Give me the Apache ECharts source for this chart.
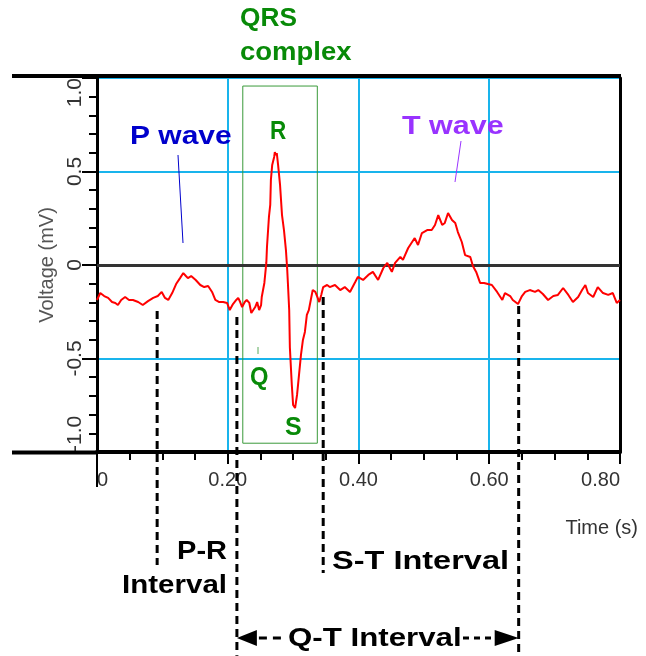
<!DOCTYPE html>
<html>
<head>
<meta charset="utf-8">
<script src="https://cdn.jsdelivr.net/npm/echarts@6/dist/echarts.min.js"></script>
<style>
html, body { margin: 0; padding: 0; background: #fff; }
#main { width: 646px; height: 656px; }
</style>
</head>
<body>
<div id="main"></div>
<script>
// ECG trace (time in s, voltage in mV)
var times = [
  0.000, 0.005, 0.011, 0.017, 0.023, 0.028, 0.032, 0.037, 0.043, 0.049,
  0.055, 0.063, 0.070, 0.078, 0.086, 0.093, 0.099, 0.104, 0.109, 0.115,
  0.121, 0.127, 0.132, 0.136, 0.139, 0.144, 0.147, 0.151, 0.158, 0.164,
  0.170, 0.176, 0.181, 0.187, 0.193, 0.199, 0.203, 0.208, 0.213, 0.216,
  0.219, 0.222, 0.226, 0.229, 0.233, 0.236, 0.239, 0.242, 0.245, 0.248,
  0.251, 0.252, 0.256, 0.259, 0.260, 0.263, 0.265, 0.266, 0.268, 0.271,
  0.272, 0.274, 0.275, 0.277, 0.280, 0.283, 0.286, 0.289, 0.291, 0.292,
  0.294, 0.295, 0.298, 0.300, 0.303, 0.306, 0.309, 0.312, 0.315, 0.318,
  0.321, 0.324, 0.327, 0.330, 0.334, 0.337, 0.340, 0.343, 0.346, 0.352,
  0.356, 0.364, 0.372, 0.379, 0.387, 0.395, 0.399, 0.407, 0.415, 0.422,
  0.430, 0.438, 0.444, 0.451, 0.456, 0.464, 0.468, 0.476, 0.482, 0.486,
  0.491, 0.497, 0.505, 0.512, 0.517, 0.522, 0.528, 0.532, 0.537, 0.543,
  0.548, 0.552, 0.558, 0.563, 0.571, 0.575, 0.580, 0.586, 0.592, 0.598,
  0.604, 0.612, 0.620, 0.624, 0.632, 0.636, 0.644, 0.650, 0.655, 0.662,
  0.670, 0.675, 0.682, 0.690, 0.698, 0.705, 0.713, 0.721, 0.728, 0.736,
  0.742, 0.747, 0.751, 0.759, 0.766, 0.774, 0.782, 0.789, 0.795, 0.800
];
var volts = [
  -0.187, -0.150, -0.166, -0.176, -0.198, -0.203, -0.214, -0.187, -0.171, -0.187,
  -0.187, -0.198, -0.214, -0.193, -0.176, -0.166, -0.144, -0.176, -0.187, -0.150,
  -0.102, -0.070, -0.043, -0.059, -0.070, -0.059, -0.053, -0.080, -0.107, -0.118,
  -0.112, -0.144, -0.187, -0.198, -0.198, -0.203, -0.241, -0.209, -0.187, -0.176,
  -0.198, -0.225, -0.198, -0.187, -0.203, -0.257, -0.267, -0.225, -0.198, -0.241,
  -0.214, -0.171, -0.096, 0.011, 0.096, 0.257, 0.321, 0.455, 0.535, 0.578,
  0.604, 0.588, 0.599, 0.535, 0.428, 0.267, 0.187, 0.080, -0.027, -0.096,
  -0.241, -0.439, -0.642, -0.749, -0.765, -0.695, -0.588, -0.481, -0.401, -0.358,
  -0.267, -0.241, -0.187, -0.134, -0.144, -0.171, -0.198, -0.160, -0.118, -0.107,
  -0.118, -0.107, -0.134, -0.118, -0.144, -0.091, -0.064, -0.080, -0.053, -0.037,
  -0.080, -0.016, 0.011, -0.037, 0.011, 0.043, 0.027, 0.091, 0.123, 0.144,
  0.107, 0.171, 0.187, 0.187, 0.214, 0.267, 0.214, 0.225, 0.278, 0.241,
  0.225, 0.176, 0.123, 0.053, 0.043, -0.005, -0.037, -0.096, -0.096, -0.102,
  -0.107, -0.144, -0.187, -0.150, -0.166, -0.187, -0.209, -0.166, -0.144, -0.134,
  -0.144, -0.134, -0.155, -0.187, -0.166, -0.160, -0.123, -0.160, -0.198, -0.171,
  -0.134, -0.107, -0.150, -0.171, -0.118, -0.150, -0.160, -0.150, -0.203, -0.187
];

// interval boundaries: P start, Q start, S end, T end
var markTimes = [0.092, 0.214, 0.346, 0.645];
var markTops = [-0.246, -0.278, -0.171, -0.219];
var markBottoms = [-1.604, -2.09, -1.647, -2.075];

// QRS complex box (time, voltage corners)
var qrsBox = [[0.223, 0.957], [0.337, -0.953]];

var chart = echarts.init(document.getElementById('main'));

var ecg = times.map(function (t, i) { return [t, volts[i]]; });

var labelFont = '"Liberation Sans", Arial, sans-serif';

chart.setOption({
  animation: false,
  grid: { left: 97, right: 26, top: 78, bottom: 204, outerBoundsMode: 'none' },
  xAxis: {
    type: 'value', min: 0, max: 0.8, interval: 0.2,
    axisLine: { onZero: false, lineStyle: { color: '#000', width: 4 } },
    axisTick: { length: 12, lineStyle: { color: '#000', width: 2 } },
    minorTick: { show: true, splitNumber: 4, length: 8, lineStyle: { color: '#000', width: 2 } },
    axisLabel: {
      fontSize: 20, color: '#333', fontFamily: labelFont, margin: 18,
      alignMinLabel: 'left', alignMaxLabel: 'right',
      formatter: function (v) { return v === 0 ? '0' : v.toFixed(2); }
    },
    splitLine: { show: true, lineStyle: { color: '#19b4ec', width: 2 } }
  },
  yAxis: [{
    type: 'value', min: -1, max: 1, interval: 0.5,
    name: 'Voltage (mV)', nameLocation: 'middle', nameGap: 37,
    nameTextStyle: { fontSize: 20, color: '#555', fontFamily: labelFont },
    axisLine: { onZero: false, lineStyle: { color: '#000', width: 3 } },
    axisTick: { length: 15, lineStyle: { color: '#000', width: 2 } },
    minorTick: { show: true, splitNumber: 5, length: 8, lineStyle: { color: '#000', width: 2 } },
    axisLabel: {
      rotate: 90, fontSize: 21, color: '#333', fontFamily: labelFont, margin: 11,
      alignMinLabel: 'left', alignMaxLabel: 'right',
      formatter: function (v) { return v === 0 ? '0' : v.toFixed(1); }
    },
    splitLine: { show: true, lineStyle: { color: '#19b4ec', width: 2 } }
  }, {
    type: 'value', min: -1, max: 1, position: 'right',
    axisLine: { show: true, onZero: false, lineStyle: { color: '#000', width: 3 } },
    axisTick: { show: false }, axisLabel: { show: false }, splitLine: { show: false }
  }],
  series: [{
    type: 'line',
    data: ecg,
    showSymbol: false,
    lineStyle: { color: '#ff0000', width: 2 },
    z: 3,
    markLine: {
      silent: true, symbol: 'none', z: 1,
      label: { show: false },
      lineStyle: { color: '#333', width: 3, type: 'solid' },
      data: [{ yAxis: 0 }]
    },
    markArea: {
      silent: true, z: 1,
      itemStyle: { color: 'rgba(0,0,0,0)', borderColor: '#3a9a3a', borderWidth: 1 },
      data: [[{ coord: qrsBox[0] }, { coord: qrsBox[1] }]]
    }
  }]
});

function px(t, v) { return chart.convertToPixel({ seriesIndex: 0 }, [t, v]); }

function txt(text, x, y, color, sx, align, font) {
  return {
    type: 'text', x: x, y: y, scaleX: sx, z: 100,
    style: {
      text: text, x: 0, y: 0, fill: color,
      font: font || ('bold 25px ' + labelFont),
      align: align || 'left', verticalAlign: 'middle'
    }
  };
}

function seg(x1, y1, x2, y2, color, w, dash) {
  return {
    type: 'line', z: 100,
    shape: { x1: x1, y1: y1, x2: x2, y2: y2 },
    style: { stroke: color, lineWidth: w, lineDash: dash || null }
  };
}

var els = [];
// frame pieces that run past the plot
els.push(seg(12, 76, 621, 76, '#000', 4));
els.push(seg(12, 452.5, 97, 452.5, '#000', 4));
els.push(seg(97, 452, 97, 487, '#000', 2));

// dashed interval boundaries
markTimes.forEach(function (t, i) {
  var a = px(t, markTops[i]), b = px(t, markBottoms[i]);
  els.push(seg(a[0], a[1], b[0], b[1], '#000', 3, [8, 5]));
});

// Q-T arrow
var qx = px(markTimes[1], 0)[0], tx = px(markTimes[3], 0)[0], ay = 638;
els.push({ type: 'polygon', z: 100, shape: { points: [[qx, ay], [qx + 20, ay - 8], [qx + 20, ay + 8]] }, style: { fill: '#000' } });
els.push({ type: 'polygon', z: 100, shape: { points: [[tx, ay], [tx - 24, ay - 8], [tx - 24, ay + 8]] }, style: { fill: '#000' } });
els.push(seg(qx + 22, ay, qx + 48, ay, '#000', 3, [8, 6]));
els.push(seg(463, ay, tx - 24, ay, '#000', 3, [6, 5]));

// leader lines
els.push(seg(178, 155, 183, 243, '#0000cc', 1));
els.push(seg(461, 141, 455, 182, '#9933ff', 1));
els.push(seg(258, 347, 258, 354, '#5aaa5a', 1));

// labels
var green = '#088a08';
els.push(txt('QRS', 240, 19, green, 1.05));
els.push(txt('complex', 240, 53, green, 1.1));
els.push(txt('R', 270, 132, green, 0.9));
els.push(txt('Q', 250, 378, green, 0.95));
els.push(txt('S', 285, 428, green, 1.0));
els.push(txt('P wave', 130, 137, '#0000cc', 1.2));
els.push(txt('T wave', 402, 127, '#9933ff', 1.22));
els.push(txt('P-R', 227, 552, '#000', 1.16, 'right'));
els.push(txt('Interval', 227, 586, '#000', 1.18, 'right'));
els.push(txt('S-T Interval', 332, 562, '#000', 1.3));
els.push(txt('Q-T Interval', 288, 639, '#000', 1.25));
els.push(txt('Time (s)', 638, 528, '#333', 1, 'right', '20px ' + labelFont));

chart.setOption({ graphic: els });
</script>
</body>
</html>
